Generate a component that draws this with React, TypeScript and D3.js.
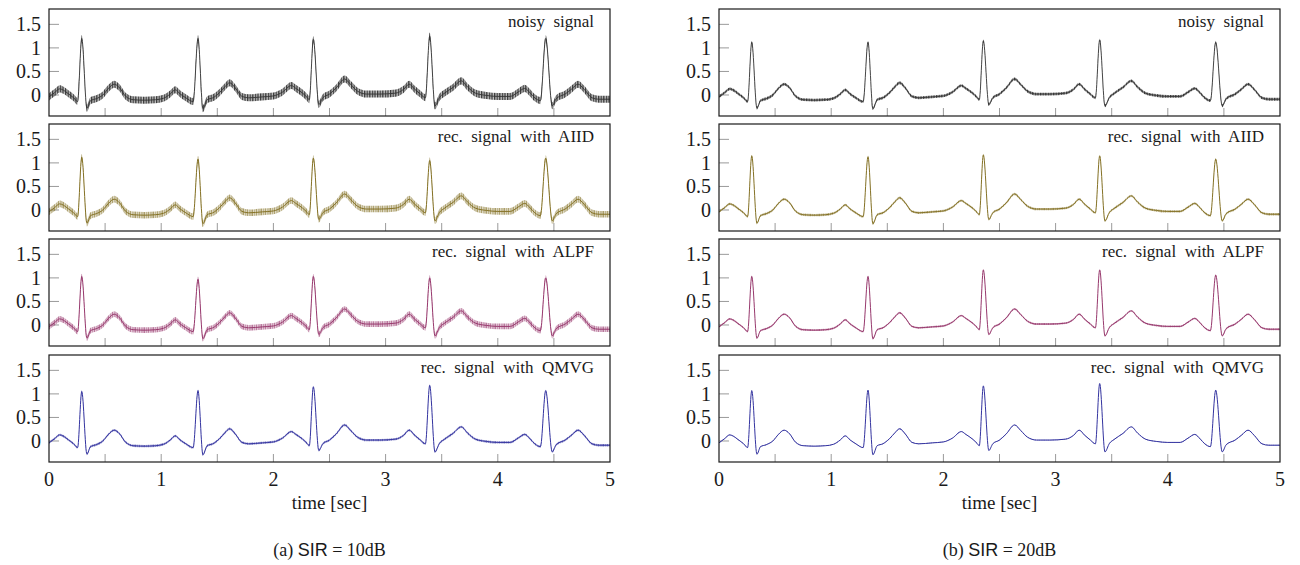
import React from "react";
import * as d3 from "d3";

// ---- data ----
// shared clean ECG key points (time in s, amplitude); R peaks handled per panel
const baseTimes = [
  0.0, 0.05, 0.095, 0.13, 0.17, 0.22, 0.255, 0.338, 0.37, 0.42, 0.48, 0.53, 0.58, 0.63, 0.68, 0.75, 0.85, 0.95,
  1.02, 1.08, 1.125, 1.17, 1.22, 1.285, 1.372, 1.41, 1.46, 1.52, 1.57, 1.61, 1.66, 1.72, 1.78, 1.9,
  2.0, 2.08, 2.16, 2.2, 2.26, 2.3, 2.32, 2.405, 2.44, 2.5, 2.56, 2.635, 2.69, 2.75, 2.83, 2.95,
  3.09, 3.16, 3.21, 3.26, 3.31, 3.355, 3.44, 3.48, 3.52, 3.6, 3.675, 3.73, 3.8, 3.9,
  4.0, 4.11, 4.18, 4.24, 4.29, 4.33, 4.38, 4.485, 4.52, 4.6, 4.66, 4.715, 4.77, 4.84, 4.9, 5.0,
];
const baseValues = [
  -0.04, 0.05, 0.13, 0.1, 0.03, -0.06, -0.14, -0.28, -0.12, -0.08, 0.0, 0.14, 0.23, 0.15, -0.02, -0.1, -0.11, -0.1,
  -0.07, 0.02, 0.11, 0.02, -0.06, -0.14, -0.29, -0.1, -0.06, 0.05, 0.18, 0.26, 0.15, -0.03, -0.06, -0.04,
  -0.02, 0.06, 0.2, 0.14, 0.04, -0.05, -0.1, -0.2, -0.06, 0.02, 0.15, 0.34, 0.22, 0.08, 0.02, 0.02,
  0.04, 0.12, 0.23, 0.12, 0.02, -0.06, -0.23, -0.05, 0.03, 0.16, 0.3, 0.17, 0.04, -0.01,
  -0.03, -0.03, 0.06, 0.14, 0.04, -0.06, -0.12, -0.23, -0.08, 0.02, 0.13, 0.23, 0.12, -0.06, -0.09, -0.09,
];
const rTimes = [0.292, 1.328, 2.356, 3.393, 4.427];

const panelLabels = [
  "noisy  signal",
  "rec.  signal  with  AIID",
  "rec.  signal  with  ALPF",
  "rec.  signal  with  QMVG",
];
const panelColors = ["#333333", "#857226", "#983a6e", "#3434a0"];

const rPeaks10dB = [
  [1.2, 1.2, 1.18, 1.25, 1.2],
  [1.12, 1.08, 1.1, 1.05, 1.1],
  [1.03, 0.97, 1.03, 1.0, 1.0],
  [1.05, 1.07, 1.15, 1.18, 1.07],
];
const rPeaks20dB = [
  [1.12, 1.12, 1.15, 1.17, 1.12],
  [1.15, 1.13, 1.17, 1.15, 1.08],
  [1.03, 1.03, 1.17, 1.17, 1.06],
  [1.07, 1.08, 1.17, 1.22, 1.08],
];
const noise10dB = [0.075, 0.07, 0.06, 0.025];
const noise20dB = [0.03, 0.025, 0.02, 0.008];

const yTicks = [0, 0.5, 1, 1.5];
const xLabelTicks = [0, 1, 2, 3, 4, 5];
const xMinorTicks = [0.5, 1, 1.5, 2, 2.5, 3, 3.5, 4, 4.5];
const captionTags = ["(a)", "(b)"];
const captionSIR = ["10dB", "20dB"];

// ---- layout ----
const W = 1300;
const H = 565;
const colX0 = [49, 719];
const plotW = 561;
const panelTops = [9, 124, 239, 355];
const panelH = 107;
const yDomain: [number, number] = [-0.446, 1.826];

const serif = "'Liberation Serif', 'DejaVu Serif', serif";
const sans = "'Liberation Sans', 'DejaVu Sans', sans-serif";

function buildPoints(peaks: number[]) {
  const pts = baseTimes.map((t, i) => ({ t, v: baseValues[i] }));
  rTimes.forEach((t, i) => pts.push({ t, v: peaks[i] }));
  pts.sort((a, b) => a.t - b.t);
  return pts;
}

function Panel({ col, row }: { col: number; row: number }) {
  const x0 = colX0[col];
  const top = panelTops[row];
  const x = d3.scaleLinear().domain([0, 5]).range([x0, x0 + plotW]);
  const y = d3.scaleLinear().domain(yDomain).range([top + panelH, top]);
  const peaks = col === 0 ? rPeaks10dB[row] : rPeaks20dB[row];
  const amp = col === 0 ? noise10dB[row] : noise20dB[row];
  const pts = buildPoints(peaks);
  const color = panelColors[row];
  const line = d3
    .line<{ t: number; v: number }>()
    .x((d) => x(d.t))
    .y((d) => y(d.v))
    .curve(d3.curveMonotoneX);
  const band = d3
    .area<{ t: number; v: number }>()
    .x((d) => x(d.t))
    .y0((d) => y(d.v - amp))
    .y1((d) => y(d.v + amp))
    .curve(d3.curveMonotoneX);
  const pid = `pat-${col}-${row}`;
  const cid = `clip-${col}-${row}`;
  return (
    <g>
      <defs>
        <clipPath id={cid}>
          <rect x={x0} y={top} width={plotW} height={panelH} />
        </clipPath>
        {row === 0 ? (
          <pattern id={pid} patternUnits="userSpaceOnUse" width={2.6} height={8}>
            <rect x={0} y={0} width={2.6} height={8} fill={color} opacity={0.3} />
            <rect x={0} y={0} width={1.3} height={8} fill={color} opacity={0.95} />
          </pattern>
        ) : (
          <pattern id={pid} patternUnits="userSpaceOnUse" width={9} height={8}>
            <rect x={0} y={0} width={9} height={8} fill={color} opacity={0.28} />
            <rect x={0} y={0} width={0.8} height={8} fill={color} opacity={0.7} />
            <rect x={2.1} y={0} width={0.7} height={8} fill={color} opacity={0.5} />
            <rect x={3.9} y={0} width={0.9} height={8} fill={color} opacity={0.65} />
            <rect x={6.2} y={0} width={0.6} height={8} fill={color} opacity={0.45} />
            <rect x={7.6} y={0} width={0.8} height={8} fill={color} opacity={0.6} />
          </pattern>
        )}
      </defs>
      {/* ticks */}
      {yTicks.map((v) => (
        <line key={"yt" + v} x1={x0} x2={x0 + 10} y1={y(v)} y2={y(v)} stroke="#9a9a9a" strokeWidth={1} />
      ))}
      {xMinorTicks.map((t) => (
        <line key={"xt" + t} x1={x(t)} x2={x(t)} y1={top + panelH} y2={top + panelH - 8} stroke="#9a9a9a" strokeWidth={1} />
      ))}
      <g clipPath={`url(#${cid})`}>
        <path d={band(pts) || ""} fill={`url(#${pid})`} stroke="none" />
        <path d={line(pts) || ""} fill="none" stroke={color} strokeWidth={row === 0 ? 0.9 : 1} strokeLinejoin="round" />
      </g>
      <rect x={x0} y={top} width={plotW} height={panelH} fill="none" stroke="#1a1a1a" strokeWidth={1.2} />
      {yTicks.map((v) => (
        <text key={"yl" + v} x={x0 - 8} y={y(v)} dy="0.35em" textAnchor="end" fontFamily={serif} fontSize={20} fill="#1a1a1a">
          {v}
        </text>
      ))}
      <text
        x={x0 + plotW - 16}
        y={top + 18}
        textAnchor="end"
        fontFamily={serif}
        fontSize={17}
        fill="#1a1a1a"
        style={{ whiteSpace: "pre" }}
      >
        {panelLabels[row]}
      </text>
      {row === 3 &&
        xLabelTicks.map((t) => (
          <text key={"xl" + t} x={x(t)} y={top + panelH + 24} textAnchor="middle" fontFamily={serif} fontSize={20} fill="#1a1a1a">
            {t}
          </text>
        ))}
      {row === 3 && (
        <text x={x0 + plotW / 2} y={top + panelH + 47} textAnchor="middle" fontFamily={serif} fontSize={19} fill="#1a1a1a">
          time [sec]
        </text>
      )}
    </g>
  );
}

export default function App() {
  return (
    <div style={{ position: "absolute", left: 0, top: 0 }}>
      <svg width={W} height={H} viewBox={`0 0 ${W} ${H}`} style={{ display: "block", background: "#fff" }}>
        {[0, 1].map((col) =>
          [0, 1, 2, 3].map((row) => <Panel key={`${col}-${row}`} col={col} row={row} />)
        )}
        {[0, 1].map((col) => (
          <text
            key={"cap" + col}
            x={colX0[col] + plotW / 2}
            y={556}
            textAnchor="middle"
            fontFamily={serif}
            fontSize={18}
            fill="#1a1a1a"
            style={{ whiteSpace: "pre" }}
          >
            {captionTags[col] + " "}
            <tspan fontFamily={sans}>SIR</tspan>
            {" = " + captionSIR[col]}
          </text>
        ))}
      </svg>
    </div>
  );
}
